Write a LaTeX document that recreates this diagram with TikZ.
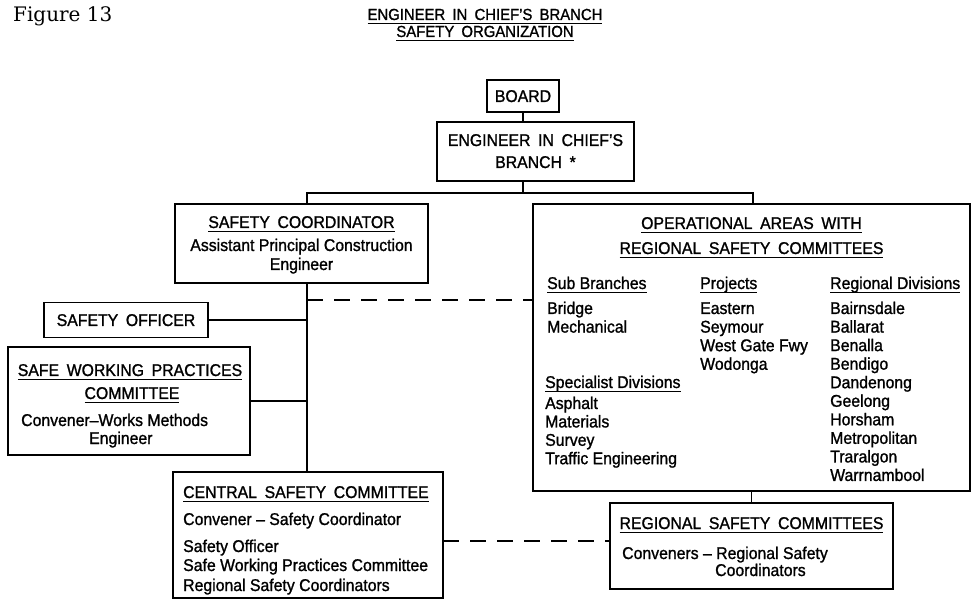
\documentclass[tikz,border=0pt]{standalone}
\usepackage{fontspec}
\setmainfont{Liberation Sans}[FakeStretch=0.93,FakeBold=1.2]
\newfontfamily\figfont{DejaVu Serif}
\newcommand\wsp{\hspace{0.45em}}
\newsavebox\hdlbox
\newcommand\hdl[1]{\sbox\hdlbox{#1}\leavevmode\rlap{\rule[-3.6pt]{\wd\hdlbox}{1pt}}\usebox\hdlbox}
\tikzset{
  box/.style={draw, line width=1.2pt, inner sep=0pt},
  txt/.style={inner sep=0pt, anchor=base west, font=\fontsize{17}{18.5}\selectfont},
  ctxt/.style={txt, anchor=base},
  link/.style={line width=1.2pt},
  dlink/.style={line width=1.2pt, dash pattern=on 16pt off 11pt},
}
\begin{document}
\begin{tikzpicture}[x=1pt,y=-1pt]
\path[use as bounding box, fill=white] (0,0) rectangle (972,601);

% title
\node[inner sep=0pt, anchor=base west, font=\figfont\fontsize{20}{24}\selectfont] (fig) at (13,22) {Figure 13};
\node[ctxt, font=\fontsize{16}{18}\selectfont] (t1) at (485,20) {\hdl{ENGINEER\wsp IN\wsp CHIEF'S\wsp BRANCH}};
\node[ctxt, font=\fontsize{16}{18}\selectfont] (t2) at (485,37) {\hdl{SAFETY\wsp ORGANIZATION}};

% boxes
\node[box, minimum width=72pt, minimum height=32pt] (board) at (523,96) {};
\node[ctxt] (boardt) at (523,102) {BOARD};

\node[box, minimum width=197pt, minimum height=59pt] (eng) at (535.5,151.5) {};
\node[ctxt] (eng1) at (535.5,146) {ENGINEER\wsp IN\wsp CHIEF'S};
\node[ctxt] (eng2) at (535.5,168) {BRANCH\wsp *};

\node[box, minimum width=253pt, minimum height=79pt] (sc) at (301.5,243.5) {};
\node[ctxt] (sc1) at (301.5,228) {\hdl{SAFETY\wsp COORDINATOR}};
\node[ctxt] (sc2) at (301.5,251) {Assistant Principal Construction};
\node[ctxt] (sc3) at (301.5,270) {Engineer};

\node[box, minimum width=164pt, minimum height=35pt] (so) at (126,320) {};
\node[ctxt] (sot) at (126,326) {SAFETY\wsp OFFICER};

\node[box, minimum width=242pt, minimum height=108pt] (swp) at (129,401) {};
\node[ctxt] (swp1) at (130,376) {\hdl{SAFE\wsp WORKING\wsp PRACTICES}};
\node[ctxt] (swp2) at (132,399) {\hdl{COMMITTEE}};
\node[txt] (swp3) at (21,426) {Convener--Works Methods};
\node[txt] (swp4) at (89,444) {Engineer};

\node[box, minimum width=270pt, minimum height=126pt] (csc) at (308,535) {};
\node[txt] (csc1) at (183,498) {\hdl{CENTRAL\wsp SAFETY\wsp COMMITTEE}};
\node[txt] (csc2) at (183,525) {Convener -- Safety Coordinator};
\node[txt] (csc3) at (183,552) {Safety Officer};
\node[txt] (csc4) at (183,571) {Safe Working Practices Committee};
\node[txt] (csc5) at (183,591) {Regional Safety Coordinators};

\node[box, minimum width=437pt, minimum height=287pt] (op) at (751.5,347.5) {};
\node[ctxt] (op1) at (751.5,229) {\hdl{OPERATIONAL\wsp AREAS\wsp WITH}};
\node[ctxt] (op2) at (751.5,254) {\hdl{REGIONAL\wsp SAFETY\wsp COMMITTEES}};
\node[txt] (sbh) at (547,289) {\hdl{Sub Branches}};
\foreach \t [count=\i] in {Bridge,Mechanical}
  \node[txt] (sb\i) at (547,{314+(\i-1)*18.6}) {\t};
\node[txt] (prh) at (700,289) {\hdl{Projects}};
\foreach \t [count=\i] in {Eastern,Seymour,West Gate Fwy,Wodonga}
  \node[txt] (pr\i) at (700,{314+(\i-1)*18.6}) {\t};
\node[txt] (rdh) at (830,289) {\hdl{Regional Divisions}};
\foreach \t [count=\i] in {Bairnsdale,Ballarat,Benalla,Bendigo,Dandenong,Geelong,Horsham,Metropolitan,Traralgon,Warrnambool}
  \node[txt] (rd\i) at (830,{314+(\i-1)*18.55}) {\t};
\node[txt] (sdh) at (545,388) {\hdl{Specialist Divisions}};
\foreach \t [count=\i] in {Asphalt,Materials,Survey,Traffic Engineering}
  \node[txt] (sd\i) at (545,{409+(\i-1)*18.4}) {\t};

\node[box, minimum width=283pt, minimum height=86pt] (rsc) at (751.5,546) {};
\node[ctxt] (rsc1) at (751.5,529) {\hdl{REGIONAL\wsp SAFETY\wsp COMMITTEES}};
\node[txt] (rsc2) at (622,559) {Conveners -- Regional Safety};
\node[txt] (rsc3) at (715,576) {Coordinators};

% junctions
\coordinate (jl) at (307,193);
\coordinate (jr) at (753,193);
\coordinate (jm) at (523,193);
\coordinate (d1) at (307,300);
\coordinate (d2) at (443,541);

% connectors
\draw[link] (board.south) -- (board.south |- eng.north);
\draw[link] (jm |- eng.south) -- (jm);
\draw[link] (jl |- sc.north) -- (jl) -- (jr) -- (jr |- op.north);
\draw[link] (jl |- sc.south) -- (jl |- csc.north);
\draw[link] (so.east) -- (so.east -| jl);
\draw[link] (swp.east) -- (swp.east -| jl);
\draw[link] (op.south) -- (rsc.north);
\draw[dlink] (d1) -- (d1 -| op.west);
\draw[dlink] (d2) -- (d2 -| rsc.west);
\end{tikzpicture}
\end{document}
